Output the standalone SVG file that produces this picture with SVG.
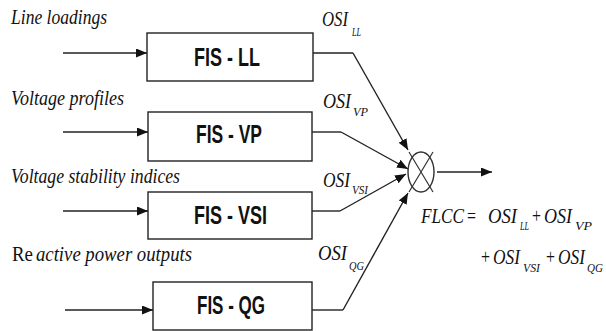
<svg xmlns="http://www.w3.org/2000/svg" width="606" height="331" viewBox="0 0 606 331">
  <style>
    .box { fill: #ffffff; stroke: #222222; stroke-width: 1.4; }
    .fis { font-family: "Liberation Sans", Arial, sans-serif; font-weight: bold; font-size: 25px; fill: #111111; }
    .in { font-family: "Liberation Serif", "DejaVu Serif", serif; font-style: italic; font-size: 22px; fill: #111111; }
    .up { font-family: "Liberation Serif", "DejaVu Serif", serif; font-size: 22px; fill: #111111; }
    .osi { font-family: "Liberation Serif", "DejaVu Serif", serif; font-style: italic; font-size: 21px; fill: #111111; }
    .big { font-family: "Liberation Serif", "DejaVu Serif", serif; font-style: italic; font-size: 22px; fill: #111111; }
    .sub { font-family: "Liberation Serif", "DejaVu Serif", serif; font-style: italic; font-size: 13px; fill: #111111; }
    .eq { font-family: "Liberation Serif", "DejaVu Serif", serif; font-size: 22px; fill: #111111; }
    .wire { fill: none; stroke: #222222; stroke-width: 1.4; }
    .arrow { fill: none; stroke: #222222; stroke-width: 1.4; marker-end: url(#head); }
  </style>
  <defs>
    <marker id="head" markerUnits="userSpaceOnUse" markerWidth="12" markerHeight="10" refX="11" refY="4.5" orient="auto">
      <path d="M0,0 L11,4.5 L0,9 z" fill="#111111"/>
    </marker>
  </defs>
  <rect width="606" height="331" fill="#ffffff"/>

  <!-- input labels -->
  <g id="inputs">
    <text class="in" x="11" y="24" textLength="96" lengthAdjust="spacingAndGlyphs">Line loadings</text>
    <text class="in" x="11" y="105" textLength="113" lengthAdjust="spacingAndGlyphs">Voltage profiles</text>
    <text class="in" x="11" y="183" textLength="169" lengthAdjust="spacingAndGlyphs">Voltage stability indices</text>
    <text class="up" x="12" y="261" textLength="21" lengthAdjust="spacingAndGlyphs">Re</text>
    <text class="in" x="36" y="261" textLength="156" lengthAdjust="spacingAndGlyphs">active power outputs</text>
  </g>

  <!-- inference blocks -->
  <g id="fis-ll">
    <rect class="box" x="147" y="33" width="166" height="48"/>
    <text class="fis" x="194" y="66" textLength="66" lengthAdjust="spacingAndGlyphs">FIS - LL</text>
  </g>
  <g id="fis-vp">
    <rect class="box" x="148" y="112" width="164" height="49"/>
    <text class="fis" x="196" y="143" textLength="66" lengthAdjust="spacingAndGlyphs">FIS - VP</text>
  </g>
  <g id="fis-vsi">
    <rect class="box" x="148" y="192" width="164" height="47"/>
    <text class="fis" x="194" y="224" textLength="73" lengthAdjust="spacingAndGlyphs">FIS - VSI</text>
  </g>
  <g id="fis-qg">
    <rect class="box" x="153" y="282" width="159" height="48"/>
    <text class="fis" x="197" y="314" textLength="68" lengthAdjust="spacingAndGlyphs">FIS - QG</text>
  </g>

  <!-- summing junction -->
  <g id="sum">
    <ellipse cx="421" cy="172" rx="13" ry="20" fill="none" stroke="#333333" stroke-width="1.4"/>
    <path d="M409,152 L433,192 M433,152 L409,192" fill="none" stroke="#333333" stroke-width="1.2"/>
  </g>

  <!-- connectors -->
  <g id="connectors">
    <line class="arrow" x1="63" y1="53" x2="147" y2="53"/>
    <line class="arrow" x1="63" y1="132" x2="148" y2="132"/>
    <line class="arrow" x1="63" y1="211" x2="148" y2="211"/>
    <line class="arrow" x1="65" y1="310" x2="153" y2="310"/>

    <path class="wire" d="M313,53 L353,53"/>
    <path class="arrow" d="M353,53 L408,150"/>
    <path class="wire" d="M312,132 L341,132"/>
    <path class="arrow" d="M341,132 L408,169"/>
    <path class="wire" d="M312,211 L340,211"/>
    <path class="arrow" d="M340,211 L406,174"/>
    <path class="wire" d="M312,310 L343,310"/>
    <path class="arrow" d="M343,310 L408,193"/>

    <line class="arrow" x1="437" y1="172" x2="492" y2="172"/>
  </g>

  <!-- output labels -->
  <g id="osi-labels">
    <text class="osi" x="322" y="26" textLength="26" lengthAdjust="spacingAndGlyphs">OSI</text>
    <text class="sub" x="352" y="36" textLength="9" lengthAdjust="spacingAndGlyphs">LL</text>
    <text class="osi" x="323" y="108" textLength="28" lengthAdjust="spacingAndGlyphs">OSI</text>
    <text class="sub" x="353" y="116" textLength="15" lengthAdjust="spacingAndGlyphs">VP</text>
    <text class="osi" x="323" y="187" textLength="27" lengthAdjust="spacingAndGlyphs">OSI</text>
    <text class="sub" x="352" y="194" textLength="16" lengthAdjust="spacingAndGlyphs">VSI</text>
    <text class="osi" x="318" y="260" textLength="29" lengthAdjust="spacingAndGlyphs">OSI</text>
    <text class="sub" x="349" y="270" textLength="15" lengthAdjust="spacingAndGlyphs">QG</text>
  </g>

  <!-- aggregation formula -->
  <g id="formula">
    <text class="big" x="421" y="223" textLength="43" lengthAdjust="spacingAndGlyphs">FLCC</text>
    <text class="eq" x="467" y="223" textLength="9" lengthAdjust="spacingAndGlyphs">=</text>
    <text class="big" x="488" y="223" textLength="29" lengthAdjust="spacingAndGlyphs">OSI</text>
    <text class="sub" x="520" y="230" textLength="9" lengthAdjust="spacingAndGlyphs">LL</text>
    <text class="eq" x="532" y="223" textLength="9" lengthAdjust="spacingAndGlyphs">+</text>
    <text class="big" x="544" y="223" textLength="28" lengthAdjust="spacingAndGlyphs">OSI</text>
    <text class="sub" x="575" y="230" textLength="17" lengthAdjust="spacingAndGlyphs">VP</text>

    <text class="eq" x="481" y="264" textLength="9" lengthAdjust="spacingAndGlyphs">+</text>
    <text class="big" x="493" y="264" textLength="27" lengthAdjust="spacingAndGlyphs">OSI</text>
    <text class="sub" x="523" y="272" textLength="17" lengthAdjust="spacingAndGlyphs">VSI</text>
    <text class="eq" x="546" y="264" textLength="9" lengthAdjust="spacingAndGlyphs">+</text>
    <text class="big" x="558" y="264" textLength="27" lengthAdjust="spacingAndGlyphs">OSI</text>
    <text class="sub" x="587" y="272" textLength="16" lengthAdjust="spacingAndGlyphs">QG</text>
  </g>
</svg>
